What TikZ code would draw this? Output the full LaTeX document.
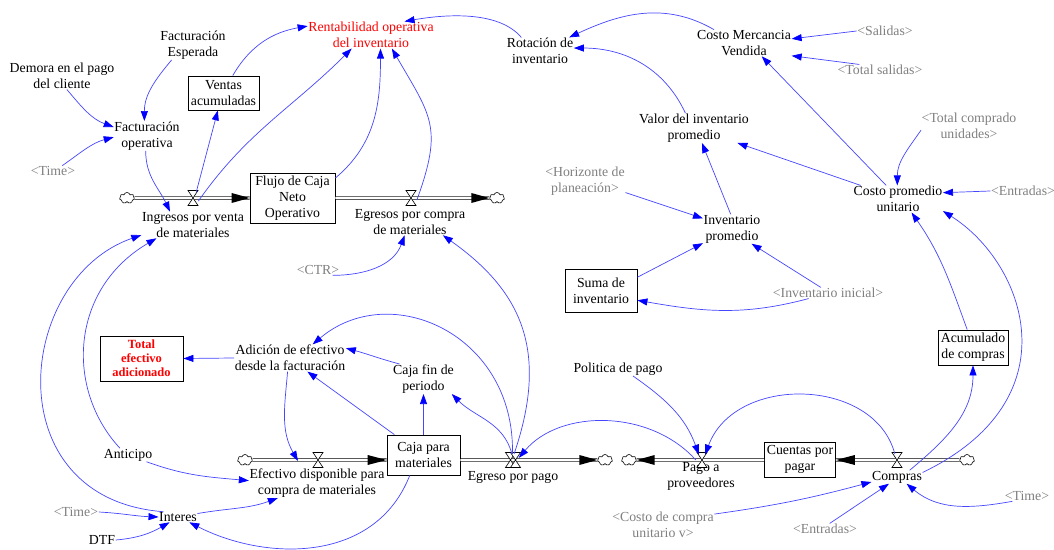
\documentclass[tikz,border=0pt]{standalone}
\usepackage{fontspec}
\setmainfont{Liberation Serif}
\usetikzlibrary{arrows.meta,shapes.symbols,calc}
\definecolor{lnk}{RGB}{70,70,255}
\definecolor{hd}{RGB}{0,0,255}
\definecolor{gr}{RGB}{128,128,128}
\definecolor{rd}{RGB}{255,0,0}
\tikzset{
  hourglass/.pic={\draw[fill=white, line width=0.6pt] (-5,7.5) -- (5,7.5) -- (-5,-7.5) -- (5,-7.5) -- cycle;},
  lbl/.style={align=center, inner sep=0.5pt},
  shad/.style={lbl, text=gr},
  stock/.style={draw, line width=0.8pt, fill=white, align=center, inner sep=0pt},
  conn/.style={draw=lnk, line width=0.7pt, -{Triangle[length=10pt,width=7pt,color=hd]}},
  pipe/.style={draw=black, line width=0.7pt, double=white, double distance=2pt},
  cloudn/.style={cloud, cloud puffs=7, cloud ignores aspect, draw, fill=white, minimum width=15pt, minimum height=11pt, inner sep=0pt, line width=0.6pt},
  vn/.style={circle, minimum size=12pt, inner sep=0pt}
}
\begin{document}
\begin{tikzpicture}[x=1pt,y=1pt, every node/.style={font=\fontsize{13.8}{16}\selectfont}]
\fill[white] (0,0) rectangle (1054,549);
\useasboundingbox (0,0) rectangle (1054,549);

% ---------- labels ----------
\node[lbl, text=rd] (rent) at (371,514) {Rentabilidad operativa\\del inventario};
\node[lbl] (rot) at (540,498) {Rotación de\\inventario};
\node[lbl] (cmv) at (744,506) {Costo Mercancia\\Vendida};
\node[shad] (sal) at (885,518) {\textless Salidas\textgreater};
\node[shad] (tsal) at (880,479) {\textless Total salidas\textgreater};
\node[lbl] (fesp) at (193,504) {Facturación\\Esperada};
\node[lbl] (dem) at (62,473) {Demora en el pago\\del cliente};
\node[stock, minimum width=71pt, minimum height=34pt] (ventas) at (223.5,456) {Ventas\\acumuladas};
\node[lbl] (fop) at (147,413) {Facturación\\operativa};
\node[shad] (time1) at (53,378) {\textless Time\textgreater};
\node[lbl] (valor) at (694,421) {Valor del inventario\\promedio};
\node[shad] (tcu) at (969,423) {\textless Total comprado\\unidades\textgreater};
\node[shad] (hor) at (585,368) {\textless Horizonte de\\planeación\textgreater};
\node[lbl] (cpu) at (898,350) {Costo promedio\\unitario};
\node[shad] (ent1) at (1023,358) {\textless Entradas\textgreater};
\node[lbl] (ing) at (193,324) {Ingresos por venta\\de materiales};
\node[stock, minimum width=85pt, minimum height=50pt] (flujo) at (292.5,351) {Flujo de Caja\\Neto\\Operativo};
\node[lbl] (egc) at (410,327) {Egresos por compra\\de materiales};
\node[lbl] (invp) at (732,320) {Inventario\\promedio};
\node[stock, minimum width=72pt, minimum height=43pt] (suma) at (601,258.5) {Suma de\\inventario};
\node[shad] (invi) at (828,256) {\textless Inventario inicial\textgreater};
\node[shad] (ctr) at (318,279) {\textless CTR\textgreater};
\node[stock, minimum width=83pt, minimum height=45pt, text=rd, font=\fontsize{12.5}{14}\selectfont\bfseries] (total) at (141.5,190.5) {Total\\efectivo\\adicionado};
\node[lbl] (adic) at (290,191) {Adición de efectivo\\desde la facturación};
\node[lbl] (cfin) at (423.5,170) {Caja fin de\\periodo};
\node[lbl] (pol) at (618,180) {Politica de pago};
\node[stock, minimum width=70pt, minimum height=35pt] (acum) at (973,201.5) {Acumulado\\de compras};
\node[lbl] (efd) at (317,66) {Efectivo disponible para\\compra de materiales};
\node[stock, minimum width=73pt, minimum height=40pt] (caja) at (423.5,94) {Caja para\\materiales};
\node[lbl] (egp) at (513,72) {Egreso por pago};
\node[lbl] (pago) at (701,73) {Pago a\\proveedores};
\node[stock, minimum width=71pt, minimum height=35pt] (cxp) at (800,89.5) {Cuentas por\\pagar};
\node[lbl] (comp) at (897,72) {Compras};
\node[shad] (time2) at (1027,53) {\textless Time\textgreater};
\node[shad] (ent2) at (825,20) {\textless Entradas\textgreater};
\node[shad] (ccu) at (663,24) {\textless Costo de compra\\unitario v\textgreater};
\node[lbl] (ant) at (128,94) {Anticipo};
\node[shad] (time3) at (76,37) {\textless Time\textgreater};
\node[lbl] (int) at (178,32) {Interes};
\node[lbl] (dtf) at (102,9) {DTF};

% ---------- flows ----------
\node[cloudn] (c1) at (127,351) {};
\node[cloudn] (c2) at (497,351) {};
\node[vn] (v1) at (193,351) {};
\node[vn] (v2) at (411,351) {};
\node[cloudn] (c3) at (245,89) {};
\node[cloudn] (c4) at (605,89) {};
\node[cloudn] (c5) at (629,89) {};
\node[cloudn] (c6) at (967,89) {};
\node[vn] (v3) at (318,89) {};
\node[vn] (v4) at (513,89) {};
\node[vn] (v5) at (702,89) {};
\node[vn] (v6) at (897,89) {};

\draw[pipe] (c1.east) -- (flujo.west |- c1);
\draw[pipe] (flujo.east |- c1) -- (c2.west);
\draw[pipe] (c3.east) -- (caja.west |- c3);
\draw[pipe] (caja.east |- c3) -- (c4.west);
\draw[pipe] (c5.east) -- (cxp.west |- c5);
\draw[pipe] (cxp.east |- c5) -- (c6.west);

\fill (flujo.west |- c1) -- ++(-18,5) -- ++(0,-10) -- cycle;
\fill (c2.west) -- ++(-18,5) -- ++(0,-10) -- cycle;
\fill (caja.west |- c3) -- ++(-19,5) -- ++(0,-10) -- cycle;
\fill (c4.west) -- ++(-18,5) -- ++(0,-10) -- cycle;
\fill (c5.east) -- ++(18,5) -- ++(0,-10) -- cycle;
\fill (cxp.east |- c5) -- ++(19,5) -- ++(0,-10) -- cycle;

\path (v1) pic {hourglass};
\path (v2) pic {hourglass};
\path (v3) pic {hourglass};
\path ([xshift=-2.5pt]v4.center) pic {hourglass};
\path ([xshift=2.5pt]v4.center) pic {hourglass};
\path (v5) pic {hourglass};
\path (v6) pic {hourglass};

% ---------- connectors ----------
\draw[conn] (fesp.215) to[out=230,in=90] (fop.100);
\draw[conn] (dem.290) to[out=-50,in=160] (fop.165);
\draw[conn] (time1.30) to[out=35,in=195] (fop.182);
\draw[conn] (fop.265) to[out=270,in=115] (ing.150);
\draw[conn] (v1.60) -- (ventas.252);
\draw[conn] (ventas.62) to[out=60,in=190] (rent.172);
\draw[conn] (v1.-30) to[out=55,in=225] (rent.215);
\draw[conn] (flujo.25) to[out=40,in=270] (rent.305);
\draw[conn] (v2.-20) to[out=70,in=-60,looseness=1.3] (rent.327);
\draw[conn] (rot.144) to[out=130,in=10,looseness=0.8] (rent.22);
\draw[conn] (cmv.156) to[out=150,in=25] (rot.25);
\draw[conn] (valor.120) to[out=115,in=0] (rot.5);
\draw[conn] (sal.west) -- (cmv.5);
\draw[conn] (tsal.165) -- (cmv.345);
\draw[conn] (cpu.131) -- (cmv.323);
\draw[conn] (cpu.160) -- (valor.341);
\draw[conn] (tcu.185) to[out=235,in=90] (cpu.93);
\draw[conn] (ent1.180) -- (cpu.8);
\draw[conn] (invp.95) -- (valor.298);
\draw[conn] (hor.344) -- (invp.160);
\draw[conn] (suma.20) -- (invp.206);
\draw[conn] (invi.142) -- (invp.323);
\draw[conn] (invi.196) to[out=195,in=-10] (suma.-15);
\draw[conn] (ctr.-20) to[out=0,in=250] (egc.248);
\draw[conn] (v4.80) .. controls (550,200) and (520,259) .. (egc.-22);
\draw[conn] (acum.108) to[out=110,in=-55] (cpu.-45);
\draw[conn] (comp.10) .. controls (1075,150) and (1025,286) .. (cpu.-15);
\draw[conn] (comp.28) to[out=40,in=-90] (acum.south);
\draw[conn] (v6.110) .. controls (875,172) and (735,175) .. (v5.60);
\draw[conn] (pol.-25) to[out=-35,in=110] (v5.120);
\draw[conn] (v5.180) .. controls (650,140) and (560,140) .. (v4.20);
\draw[conn] (ccu.12) to[out=8,in=195] (comp.191);
\draw[conn] (ent2.50) -- (comp.220);
\draw[conn] (time2.200) to[out=190,in=-40] (comp.-35);
\draw[conn] (v4.100) to[out=105,in=-45] (cfin.-28);
\draw[conn] (caja.north) -- (cfin.south);
\draw[conn] (cfin.148) to[out=165,in=-15] (adic.10);
\draw[conn] (caja.145) -- (adic.-38);
\draw[conn] (v4.95) .. controls (515,215) and (390,270) .. (adic.31);
\draw[conn] (adic.-100) to[out=265,in=120] ([xshift=-19pt,yshift=7pt]efd.north);
\draw[conn] (caja.236) .. controls (375,-15) and (265,-12) .. (int.-25);
\draw[conn] (int.160) .. controls (-5,50) and (15,270) .. (ing.191);
\draw[conn] (ant.140) .. controls (65,160) and (70,260) .. (ing.200);
\draw[conn] (ant.-20) to[out=-20,in=175] (efd.178);
\draw[conn] (int.10) to[out=10,in=200] (efd.201);
\draw[conn] (time3.east) to[out=-3,in=178] (int.west);
\draw[conn] (dtf.east) to[out=5,in=210] (int.212);
\draw[conn] (adic.west) -- (total.east);
\end{tikzpicture}
\end{document}
